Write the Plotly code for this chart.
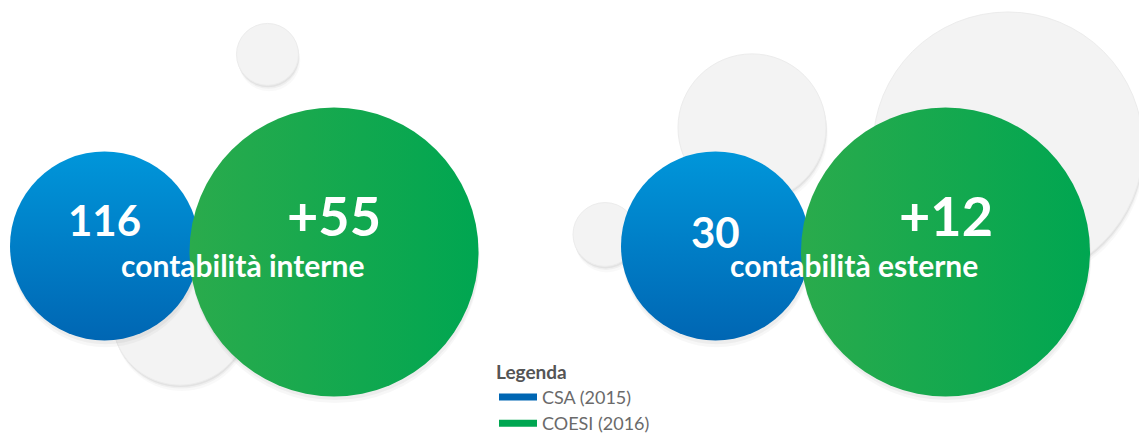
import plotly.graph_objects as go

W, H = 1147, 434
OFF = 8  # page body margin compensation

# ---- data ----
groups = ["contabilità interne", "contabilità esterne"]
csa_2015 = [116, 30]
coesi_2016_delta = [55, 12]
series_names = ["CSA (2015)", "COESI (2016)"]
legend_title = "Legenda"

# ---- layout (pixel positions) ----
blue_cx = [104.5, 715.5]
blue_cy = 246.5
blue_d = 189
green_cx = [334, 945.5]
green_cy = 252.5
green_d = 289
num_blue_y = [220, 233]
num_green_y = 216
label_y = 266
label_cx = [242.5, 853.5]
deco = [(267.5, 54.5, 31), (180, 318, 68), (752, 128, 74), (605, 235, 32), (1008, 147, 135)]

BLUE_DARK = "#0066B3"
BLUE_LIGHT = "#0096DA"
GREEN = "#00A651"
GREEN_LIGHT = "#2AAB4C"
GREY = "#F3F3F3"

fig = go.Figure()

shapes = []
for cx, cy, r in deco:
    for k, a in [(6, 0.025), (3.5, 0.04), (2, 0.05)]:
        shapes.append(dict(type="circle", xref="x", yref="y", layer="below",
                           x0=cx - r + k * 0.3, x1=cx + r + k * 0.3, y0=cy - r + k, y1=cy + r + k,
                           fillcolor=f"rgba(0,0,0,{a})", line=dict(width=0)))
    shapes.append(dict(type="circle", xref="x", yref="y", layer="below",
                       x0=cx - r, x1=cx + r, y0=cy - r, y1=cy + r,
                       fillcolor=GREY, line=dict(color="#ECECEC", width=1)))
for cxs, cy, d in [(blue_cx, blue_cy, blue_d), (green_cx, green_cy, green_d)]:
    r = d / 2
    for cx in cxs:
        for k, a in [(7, 0.03), (4, 0.04)]:
            shapes.append(dict(type="circle", xref="x", yref="y", layer="below",
                               x0=cx - r + 1, x1=cx + r + 1, y0=cy - r + k, y1=cy + r + k,
                               fillcolor=f"rgba(0,0,0,{a})", line=dict(width=0)))

# colored circles as markers
fig.add_trace(go.Scatter(
    x=blue_cx, y=[blue_cy] * len(blue_cx), mode="markers", showlegend=False, hoverinfo="skip",
    marker=dict(size=blue_d, color=BLUE_LIGHT, line=dict(width=0),
                gradient=dict(type="vertical", color=BLUE_DARK)),
    cliponaxis=False))
fig.add_trace(go.Scatter(
    x=green_cx, y=[green_cy] * len(green_cx), mode="markers", showlegend=False, hoverinfo="skip",
    marker=dict(size=green_d, color=GREEN_LIGHT, line=dict(width=0),
                gradient=dict(type="horizontal", color=GREEN)),
    cliponaxis=False))

# legend entries
for name, col in zip(series_names, [BLUE_DARK, GREEN]):
    fig.add_trace(go.Scatter(x=[None], y=[None], mode="lines", name=name,
                             line=dict(color=col, width=7)))

annotations = []
for i, g in enumerate(groups):
    annotations.append(dict(x=blue_cx[i], y=num_blue_y[i], xref="x", yref="y", showarrow=False,
                            text=f"<b>{csa_2015[i]}</b>", xanchor="center", yanchor="middle",
                            font=dict(family="Lato", size=42, color="white")))
    annotations.append(dict(x=green_cx[i], y=num_green_y, xref="x", yref="y", showarrow=False,
                            text=f"<b>+{coesi_2016_delta[i]}</b>", xanchor="center", yanchor="middle",
                            font=dict(family="Lato", size=54, color="white")))
    annotations.append(dict(x=label_cx[i], y=label_y, xref="x", yref="y", showarrow=False,
                            text=f"<b>{g}</b>", xanchor="center", yanchor="middle",
                            font=dict(family="Lato", size=30, color="white")))

fig.update_layout(
    width=W, height=H,
    margin=dict(l=0, r=0, t=0, b=0),
    paper_bgcolor="white", plot_bgcolor="white",
    xaxis=dict(range=[OFF, W + OFF], visible=False, fixedrange=True),
    yaxis=dict(range=[H + OFF, OFF], visible=False, fixedrange=True),
    shapes=shapes,
    annotations=annotations,
    showlegend=True,
    legend=dict(x=(494 - OFF) / W, y=1 - (355 - OFF) / H, xanchor="left", yanchor="top",
                bgcolor="rgba(0,0,0,0)", itemwidth=38,
                title=dict(text=f"<b>{legend_title}</b>",
                           font=dict(family="Lato", size=19, color="#555555")),
                font=dict(family="Lato", size=18, color="#6A6A6A"),
                tracegroupgap=0),
)

fig.write_html("out.html")
